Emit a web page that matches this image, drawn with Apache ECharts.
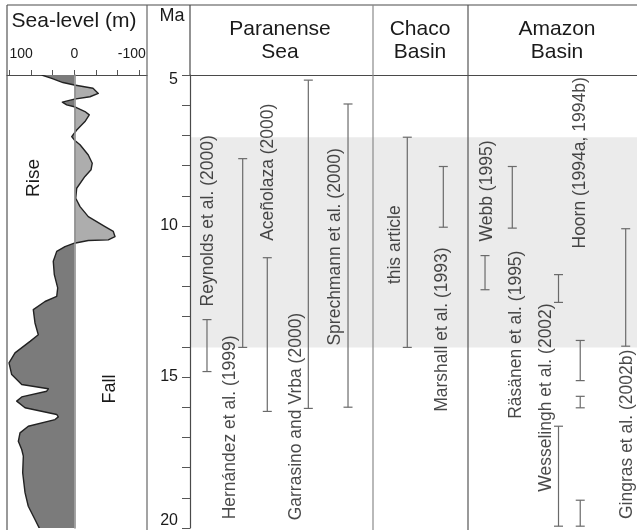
<!DOCTYPE html>
<html><head><meta charset="utf-8">
<script src="https://cdn.jsdelivr.net/npm/echarts@6/dist/echarts.min.js"></script>
<style>html,body{margin:0;padding:0;background:#fff}#c{width:637px;height:530px}</style>
</head><body><div id="c"></div>
<script>
// ---------- DATA ----------
// Sea-level curve (Ma, metres; positive = left of zero)
const seaMa = [5.00,5.11,5.25,5.33,5.44,5.61,5.72,5.80,5.90,5.99,6.05,6.21,6.32,6.54,6.82,7.04,7.15,7.31,7.65,7.92,8.14,8.36,8.75,9.08,9.36,9.69,10.02,10.18,10.35,10.46,10.48,10.57,10.68,10.84,11.17,11.61,12.05,12.33,12.50,12.77,13.21,13.60,13.82,14.20,14.53,14.92,15.25,15.39,15.47,15.66,15.80,16.02,16.24,16.32,16.41,16.63,16.85,17.13,17.40,17.62,18.17,18.83,19.28,19.72,20.05];
const seaLevel = [50.1,34.7,17.4,0,-28.7,-36.9,-24.1,0,18.4,11.7,0,-16.4,-23.0,-16.4,-3.7,4.0,0,-8.8,-21.5,-27.6,-25.7,-16.4,-3.7,-2.2,-8.8,-21.5,-47.2,-59.9,-62.5,-52.2,-21.5,0,14.3,27.0,32.3,30.7,25.5,27.0,45.0,63.0,60.4,55.3,68.0,91.1,100.3,96.2,80.8,39.9,42.4,80.8,88.5,75.7,27.0,24.6,29.6,70.7,83.4,86.0,80.8,78.3,79.3,75.7,70.7,60.4,52.7];
const seaTicks = [100, 66.67, 33.33, 0, -33.33, -66.67, -100];
const seaTickLabels = [100, 0, -100];
const maLabelTicks = [5, 10, 15, 20];
const bandRange = [7.06, 14.02];

const refNames = ['Reynolds et al. (2000)','Hernández et al. (1999)','Aceñolaza (2000)','Garrasino and Vrba (2000)','Sprechmann et al. (2000)','this article','Marshall et al. (1993)','Webb (1995)','Räsänen et al. (1995)','Wesselingh et al. (2002)','Hoorn (1994a, 1994b)','Gingras et al. (2002b)'];
const rangeRef   = [0,1,2,3,4,5,6,7,8,9,9,10,10,10,11];
const rangeStart = [13.10,7.77,11.05,5.17,5.96,7.06,8.03,10.98,8.03,11.61,16.63,13.79,15.64,19.08,10.09];
const rangeEnd   = [14.82,14.02,16.14,16.04,16.00,14.02,10.04,12.11,10.07,12.53,19.94,15.12,16.02,19.94,13.98];

// ---------- LAYOUT (track = % across the right-hand panel) ----------
const refTrack   = [3.80,11.79,17.29,26.47,35.35,48.61,56.67,66.00,72.10,82.44,87.30,97.47];
const labelTrack = [4.03,8.95,17.56,23.71,32.44,45.86,56.38,66.44,72.93,79.64,87.25,97.76];
const labelMa    = [9.83,16.67,8.22,16.31,10.69,10.62,13.43,8.84,13.60,15.68,7.91,16.90];

// ---------- CHART ----------
const FONT = '"Liberation Sans", Arial, Helvetica, sans-serif';
const INK = '#1a1a1a';
const chart = echarts.init(document.getElementById('c'));

function renderSea(params, api) {
  if (params.dataIndex !== 0) return null;
  const n = seaMa.length, pts = [];
  for (let i = 0; i < n; i++) {
    const v = seaLevel[i], m = seaMa[i];
    if (i > 0) {
      const v0 = seaLevel[i-1], m0 = seaMa[i-1];
      if ((v0 > 0 && v < 0) || (v0 < 0 && v > 0)) {
        const t = v0 / (v0 - v);
        pts.push([0, m0 + t * (m - m0)]);
      }
    }
    pts.push([v, m]);
  }
  const pos = pts.map(p => api.coord([Math.max(p[0], 0), p[1]]));
  const neg = pts.map(p => api.coord([Math.min(p[0], 0), p[1]]));
  const zTop = api.coord([0, seaMa[0]]), zBot = api.coord([0, seaMa[n-1]]);
  pos.push(zBot, zTop); neg.push(zBot, zTop);
  const outline = seaLevel.map((v, i) => api.coord([v, seaMa[i]]));
  return {type: 'group', children: [
    {type: 'polygon', shape: {points: pos}, style: {fill: '#7b7b7b'}},
    {type: 'polygon', shape: {points: neg}, style: {fill: '#adadad'}},
    {type: 'polyline', shape: {points: outline}, style: {stroke: '#222', lineWidth: 1.4, fill: null, lineJoin: 'round'}}
  ]};
}

function renderBar(params, api) {
  const x = api.value(0), a = api.value(1), b = api.value(2);
  const p1 = api.coord([x, a]), p2 = api.coord([x, b]);
  const w = 4.5, st = {stroke: '#6a6a6a', lineWidth: 1.2};
  return {type: 'group', children: [
    {type: 'line', shape: {x1: p1[0], y1: p1[1], x2: p2[0], y2: p2[1]}, style: st},
    {type: 'line', shape: {x1: p1[0]-w, y1: p1[1], x2: p1[0]+w, y2: p1[1]}, style: st},
    {type: 'line', shape: {x1: p2[0]-w, y1: p2[1], x2: p2[0]+w, y2: p2[1]}, style: st}
  ]};
}

const barData = rangeRef.map((r, i) => [refTrack[r], rangeStart[i], rangeEnd[i]]);
const labelData = refNames.map((nm, i) => ({name: nm, value: [labelTrack[i], labelMa[i]]}));

function line(x1, y1, x2, y2, c) {
  return {type: 'line', z: 100, shape: {x1, y1, x2, y2}, style: {stroke: c || '#4a4a4a', lineWidth: 1.2}, silent: true};
}
function txt(x, y, s, size, rot) {
  return {type: 'text', z: 100, x, y, rotation: rot || 0, silent: true,
    style: {text: s, fontSize: size, fontFamily: FONT, fill: INK, align: 'center', verticalAlign: 'middle', lineHeight: 23}};
}

const option = {
  animation: false,
  backgroundColor: '#fff',
  textStyle: {fontFamily: FONT},
  grid: [
    {left: 7, top: 75, width: 140, height: 453},
    {left: 190, top: 75, width: 447, height: 453}
  ],
  xAxis: [
    {gridIndex: 0, type: 'value', position: 'top', inverse: true, min: -111.7, max: 103.4,
     axisLine: {show: true, lineStyle: {color: '#4a4a4a', width: 1.2}},
     axisTick: {show: true, length: 5, customValues: seaTicks, lineStyle: {color: '#555'}},
     axisLabel: {show: true, customValues: seaTickLabels, margin: 14, color: INK, fontSize: 14,
       formatter: v => v === 100 ? '{l|100}' : (v === -100 ? '{r|-100}' : '{c|0}'),
       rich: {l: {fontSize: 14, color: INK, padding: [0, 0, 0, 24]},
              r: {fontSize: 14, color: INK, padding: [0, 15, 0, 0]},
              c: {fontSize: 14, color: INK}}},
     splitLine: {show: false}},
    {gridIndex: 1, type: 'value', position: 'top', min: 0, max: 100, show: true,
     axisLine: {show: true, lineStyle: {color: '#4a4a4a', width: 1.2}},
     axisTick: {show: false}, axisLabel: {show: false}, splitLine: {show: false}}
  ],
  yAxis: [
    {gridIndex: 0, type: 'value', min: 5, max: 20, inverse: true, z: 5,
     axisLine: {show: true, onZero: true, lineStyle: {color: '#8f8f8f', width: 1.6}},
     axisTick: {show: false}, axisLabel: {show: false}, splitLine: {show: false}},
    {gridIndex: 1, type: 'value', min: 5, max: 20, interval: 1, inverse: true, z: 5,
     axisLine: {show: true, lineStyle: {color: '#4a4a4a', width: 1.2}},
     axisTick: {show: true, length: 8, lineStyle: {color: '#555'}},
     axisLabel: {show: true, margin: 12, color: INK, fontSize: 16,
       formatter: v => maLabelTicks.indexOf(v) < 0 ? '' : (v === 5 ? '{t|5}' : v === 20 ? '{b|20}' : '{n|' + v + '}'),
       rich: {t: {fontSize: 16, color: INK, padding: [10, 0, 0, 0]},
              b: {fontSize: 16, color: INK, padding: [0, 0, 14, 0]},
              n: {fontSize: 16, color: INK}}},
     splitLine: {show: false}}
  ],
  series: [
    {type: 'custom', name: 'sea', xAxisIndex: 0, yAxisIndex: 0, clip: true, z: 2,
     data: seaLevel.map((v, i) => [v, seaMa[i]]), renderItem: renderSea},
    {type: 'custom', name: 'band', xAxisIndex: 1, yAxisIndex: 1, z: 1, data: [],
     renderItem: () => null,
     markArea: {silent: true, itemStyle: {color: '#ebebeb'},
       data: [[{yAxis: bandRange[0]}, {yAxis: bandRange[1]}]]}},
    {type: 'custom', name: 'ranges', xAxisIndex: 1, yAxisIndex: 1, z: 3, clip: false,
     data: barData, renderItem: renderBar},
    {type: 'scatter', name: 'labels', xAxisIndex: 1, yAxisIndex: 1, z: 4, symbolSize: 0,
     data: labelData,
     label: {show: true, position: 'inside', rotate: 90, formatter: p => p.name,
       fontSize: 17.5, color: INK, fontFamily: FONT, align: 'center', verticalAlign: 'middle'}}
  ],
  graphic: [
    line(7, 5, 637, 5),
    line(7, 5, 7, 530, '#555'),
    line(147, 5, 147, 530, '#666'),
    line(190, 5, 190, 75),
    line(373, 5, 373, 530, '#8a8a8a'),
    line(468, 5, 468, 530, '#555'),
    txt(74, 21, 'Sea-level (m)', 21),
    txt(172, 16, 'Ma', 18),
    txt(280, 41, 'Paranense\nSea', 21),
    txt(420, 41, 'Chaco\nBasin', 21),
    txt(557, 41, 'Amazon\nBasin', 21),
    txt(34, 178, 'Rise', 19, Math.PI / 2),
    txt(110, 389, 'Fall', 18, Math.PI / 2)
  ]
};
chart.setOption(option);
</script></body></html>
